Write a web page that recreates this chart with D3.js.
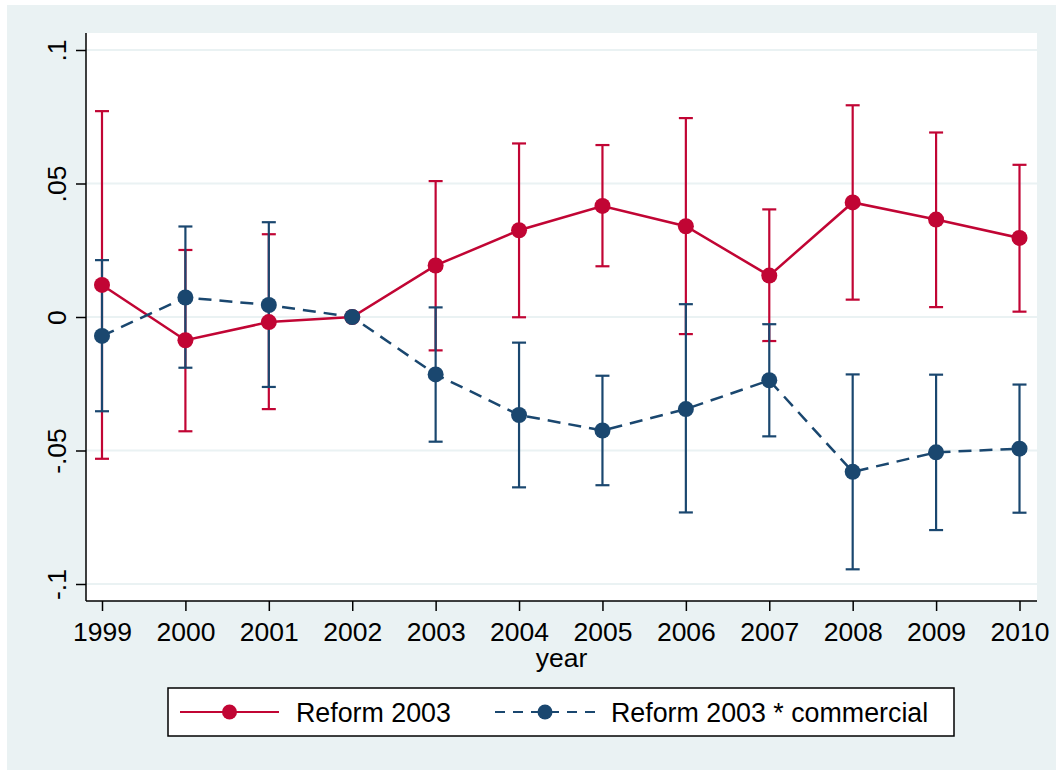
<!DOCTYPE html>
<html>
<head>
<meta charset="utf-8">
<script src="https://cdn.jsdelivr.net/npm/d3@7"></script>
<style>
  html, body { margin: 0; padding: 0; background: #fff; }
  svg { display: block; font-family: "Liberation Sans", Arial, Helvetica, sans-serif; }
</style>
</head>
<body>
<svg id="chart" width="1056" height="770"></svg>
<script>
// ---- data ----
const years = [1999, 2000, 2001, 2002, 2003, 2004, 2005, 2006, 2007, 2008, 2009, 2010];
const reformEst = [0.0120, -0.0087, -0.0019, 0, 0.0193, 0.0325, 0.0416, 0.0340, 0.0155, 0.0429, 0.0365, 0.0296];
const reformLo  = [-0.0531, -0.0428, -0.0345, null, -0.0125, -0.0001, 0.0190, -0.0064, -0.0090, 0.0065, 0.0037, 0.0020];
const reformHi  = [0.0771, 0.0251, 0.0310, null, 0.0509, 0.0650, 0.0644, 0.0745, 0.0403, 0.0793, 0.0691, 0.0570];
const commEst = [-0.0071, 0.0073, 0.0045, 0, -0.0215, -0.0367, -0.0425, -0.0345, -0.0237, -0.0580, -0.0507, -0.0493];
const commLo  = [-0.0353, -0.0190, -0.0262, null, -0.0467, -0.0638, -0.0630, -0.0732, -0.0447, -0.0945, -0.0798, -0.0733];
const commHi  = [0.0213, 0.0339, 0.0355, null, 0.0036, -0.0096, -0.0220, 0.0048, -0.0027, -0.0215, -0.0216, -0.0253];
const yTicks = [-0.1, -0.05, 0, 0.05, 0.1];
const yTickLabels = ["-.1", "-.05", "0", ".05", ".1"];
const seriesNames = ["Reform 2003", "Reform 2003 * commercial"];
const xTitle = "year";

const RED = "#C10534", NAVY = "#1A476F", BG = "#EAF2F3";

const svg = d3.select("#chart");
// outer background
svg.append("rect").attr("x", 7).attr("y", 5).attr("width", 1049).attr("height", 765).attr("fill", BG);

const plot = { left: 86, right: 1037, top: 33, bottom: 601 };
svg.append("rect").attr("x", plot.left).attr("y", plot.top)
  .attr("width", plot.right - plot.left).attr("height", plot.bottom - plot.top).attr("fill", "#fff");

const x = d3.scaleLinear().domain([1999, 2010]).range([102, 1019.5]);
const y = d3.scaleLinear().domain([-0.1, 0.1]).range([584, 50]);

// gridlines
svg.append("g").selectAll("line").data(yTicks).join("line")
  .attr("x1", plot.left).attr("x2", plot.right)
  .attr("y1", d => y(d)).attr("y2", d => y(d))
  .attr("stroke", BG).attr("stroke-width", 2);

// y axis
const yAxis = d3.axisLeft(y).tickValues(yTicks).tickSize(10).tickFormat((d, i) => yTickLabels[i]);
const gy = svg.append("g").attr("transform", `translate(${plot.left},0)`).call(yAxis);
gy.select(".domain").attr("d", `M0,${plot.top}V${plot.bottom}`).attr("stroke", "#000").attr("stroke-width", 1.5);
gy.selectAll(".tick line").attr("stroke", "#000").attr("stroke-width", 1.5);
gy.selectAll(".tick text").remove();
gy.selectAll(".tick").append("text")
  .attr("transform", "translate(-20,0) rotate(-90)")
  .attr("text-anchor", "middle").attr("fill", "#000")
  .style("font-size", "26.5px").style("font-family", '"Liberation Sans", Arial, sans-serif')
  .text((d, i) => yTickLabels[i]);

// x axis
const xAxis = d3.axisBottom(x).tickValues(years).tickSize(10).tickFormat(d3.format("d"));
const gx = svg.append("g").attr("transform", `translate(0,${plot.bottom})`).call(xAxis);
gx.select(".domain").attr("d", `M${plot.left},0H${plot.right}`).attr("stroke", "#000").attr("stroke-width", 1.5);
gx.selectAll(".tick line").attr("stroke", "#000").attr("stroke-width", 1.5);
gx.selectAll(".tick text").attr("y", 0).attr("dy", null)
  .attr("transform", "translate(0,40)")
  .attr("fill", "#000").style("font-size", "26.5px").style("font-family", '"Liberation Sans", Arial, sans-serif');

svg.append("text").attr("x", (plot.left + plot.right) / 2).attr("y", 667)
  .attr("text-anchor", "middle").style("font-size", "26.5px").text(xTitle);

// error bars
function errorBars(lo, hi, color) {
  const d = years.map((yr, i) => ({ yr, lo: lo[i], hi: hi[i] })).filter(e => e.lo !== null);
  const g = svg.append("g").attr("stroke", color).attr("stroke-width", 2.2).attr("fill", "none");
  g.selectAll("line.v").data(d).join("line").attr("class", "v")
    .attr("x1", e => x(e.yr)).attr("x2", e => x(e.yr)).attr("y1", e => y(e.lo)).attr("y2", e => y(e.hi));
  g.selectAll("line.t").data(d).join("line").attr("class", "t")
    .attr("x1", e => x(e.yr) - 7).attr("x2", e => x(e.yr) + 7).attr("y1", e => y(e.hi)).attr("y2", e => y(e.hi));
  g.selectAll("line.b").data(d).join("line").attr("class", "b")
    .attr("x1", e => x(e.yr) - 7).attr("x2", e => x(e.yr) + 7).attr("y1", e => y(e.lo)).attr("y2", e => y(e.lo));
}
errorBars(reformLo, reformHi, RED);
errorBars(commLo, commHi, NAVY);

function series(est, color, dash) {
  const line = d3.line().x((d, i) => x(years[i])).y(d => y(d));
  svg.append("path").datum(est).attr("d", line).attr("fill", "none")
    .attr("stroke", color).attr("stroke-width", 2.5).attr("stroke-dasharray", dash || null);
  svg.append("g").selectAll("circle").data(est).join("circle")
    .attr("cx", (d, i) => x(years[i])).attr("cy", d => y(d)).attr("r", 8).attr("fill", color);
}
series(reformEst, RED);
series(commEst, NAVY, "13,8");

// legend
const lg = svg.append("g");
lg.append("rect").attr("x", 168).attr("y", 688).attr("width", 786).attr("height", 48)
  .attr("fill", "#fff").attr("stroke", "#000").attr("stroke-width", 1.5);
const legendItems = [
  { name: seriesNames[0], color: RED, dash: null, x0: 180, x1: 279, tx: 296 },
  { name: seriesNames[1], color: NAVY, dash: "10,8", x0: 495, x1: 595, tx: 611 }
];
legendItems.forEach(it => {
  lg.append("line").attr("x1", it.x0).attr("x2", it.x1).attr("y1", 712).attr("y2", 712)
    .attr("stroke", it.color).attr("stroke-width", 2).attr("stroke-dasharray", it.dash);
  lg.append("circle").attr("cx", (it.x0 + it.x1) / 2).attr("cy", 712).attr("r", 7.5).attr("fill", it.color);
  lg.append("text").attr("x", it.tx).attr("y", 722).style("font-size", "26.8px").text(it.name);
});
</script>
</body>
</html>
